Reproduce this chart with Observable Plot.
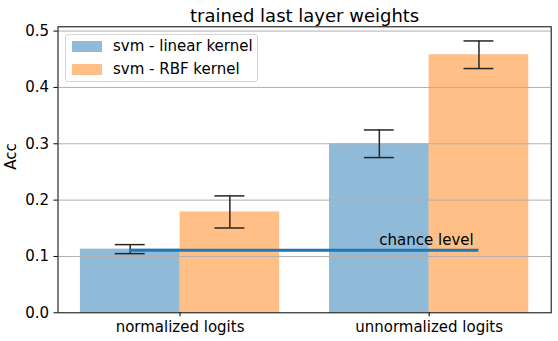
<!DOCTYPE html>
<html>
<head>
<meta charset="utf-8">
<script src="https://cdn.jsdelivr.net/npm/d3@7"></script>
<script src="https://cdn.jsdelivr.net/npm/@observablehq/plot@0.6"></script>
<style>
  body { margin: 0; background: #fff; font-family: "DejaVu Sans", sans-serif; }
  #wrap { position: relative; width: 558px; height: 341px; }
  #legend { position: absolute; left: 65px; top: 34px; width: 193px; height: 48px;
    border: 1px solid #d5d5d5; border-radius: 3px; background: rgba(255,255,255,0.8);
    font: 15px "DejaVu Sans", sans-serif; color: #000; box-sizing: border-box; }
  .sw { position: absolute; left: 6px; width: 30px; height: 10.5px; }
  .lab { position: absolute; left: 47px; white-space: nowrap; line-height: 1; }
</style>
</head>
<body>
<div id="wrap"></div>
<script>
const categories = ["normalized logits", "unnormalized logits"];
const seriesNames = ["svm - linear kernel", "svm - RBF kernel"];
const linearAcc = [0.113, 0.300];
const linearErr = [0.008, 0.0245];
const rbfAcc = [0.179, 0.458];
const rbfErr = [0.0285, 0.0245];
const chanceLevel = 0.111;
const chanceLabel = "chance level";
const yTicks = [0.0, 0.1, 0.2, 0.3, 0.4, 0.5];
const colors = ["#1f77b4", "#ff7f0e"];
const title = "trained last layer weights";
const yLabel = "Acc";

const barW = 0.4;
const rows = [];
categories.forEach((c, i) => {
  [[linearAcc, linearErr], [rbfAcc, rbfErr]].forEach(([acc, err], s) => {
    const xc = i + (s === 0 ? -barW / 2 : barW / 2);
    rows.push({cat: c, series: seriesNames[s], xc, x1: xc - barW / 2, x2: xc + barW / 2,
      v: acc[i], lo: acc[i] - err[i], hi: acc[i] + err[i], color: colors[s]});
  });
});

const font = '"DejaVu Sans", sans-serif';
const chart = Plot.plot({
  width: 558,
  height: 341,
  marginLeft: 57.5,
  marginRight: 7.3,
  marginTop: 26.3,
  marginBottom: 28.7,
  style: {fontFamily: font, fontSize: "15px", color: "#000", background: "#fff"},
  x: {domain: [-0.49, 1.49], axis: null},
  y: {domain: [0, 0.5076], axis: null},
  marks: [
    Plot.rect(rows, {x1: "x1", x2: "x2", y1: 0, y2: "v", fill: "color", fillOpacity: 0.5}),
    Plot.gridY(yTicks.slice(1), {stroke: "#b0b0b0", strokeOpacity: 1, strokeWidth: 1}),
    Plot.ruleX(rows, {x: "xc", y1: "lo", y2: "hi", stroke: "#262626", strokeWidth: 1.5}),
    Plot.ruleY(rows, {y: "lo", x1: d => d.xc - 0.06, x2: d => d.xc + 0.06, stroke: "#262626", strokeWidth: 1.5}),
    Plot.ruleY(rows, {y: "hi", x1: d => d.xc - 0.06, x2: d => d.xc + 0.06, stroke: "#262626", strokeWidth: 1.5}),
    Plot.ruleY([chanceLevel], {x1: -barW / 2, x2: categories.length - 1 + barW / 2, stroke: colors[0], strokeWidth: 3}),
    Plot.text([chanceLabel], {x: 0.8, y: 0.12, text: d => d, textAnchor: "start", lineAnchor: "bottom", fontSize: 15, fill: "#000"}),
    Plot.frame({stroke: "#000", strokeWidth: 1}),
    Plot.axisY({ticks: yTicks, tickFormat: ".1f", tickSize: 4, tickPadding: 5, fontSize: 15, label: null, stroke: "#000"}),
    Plot.axisX({ticks: categories.map((c, i) => i), tickFormat: i => categories[i], tickSize: 4, tickPadding: 5, fontSize: 15, label: null}),
    Plot.text([yLabel], {frameAnchor: "left", text: d => d, rotate: -90, dx: -42, lineAnchor: "bottom", fontSize: 15, fill: "#000"}),
    Plot.text([title], {frameAnchor: "top", text: d => d, dy: -5, lineAnchor: "bottom", fontSize: 18, fill: "#000"})
  ]
});
const wrap = document.getElementById("wrap");
wrap.appendChild(chart);

const legend = document.createElement("div");
legend.id = "legend";
seriesNames.forEach((name, s) => {
  const sw = document.createElement("div");
  sw.className = "sw";
  sw.style.top = (s === 0 ? 6 : 29) + "px";
  sw.style.background = colors[s];
  sw.style.opacity = 0.5;
  const lab = document.createElement("div");
  lab.className = "lab";
  lab.style.top = (s === 0 ? 4 : 26.5) + "px";
  lab.textContent = name;
  legend.appendChild(sw);
  legend.appendChild(lab);
});
wrap.appendChild(legend);
</script>
</body>
</html>
